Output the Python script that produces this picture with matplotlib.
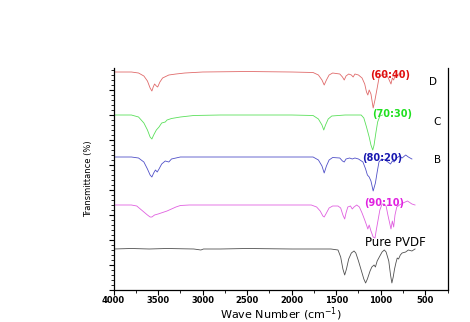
import matplotlib
matplotlib.use("Agg")
import matplotlib.pyplot as plt
from matplotlib.ticker import MultipleLocator, NullFormatter

# --- FTIR spectra (wavenumber cm^-1, transmittance in arbitrary %) ---
wn_d = [4000, 3800, 3720, 3660, 3620, 3590, 3570, 3555, 3540, 3520, 3505, 3480, 3450, 3380,
        3300, 3200, 3000, 2500, 2000, 1760, 1700, 1660, 1635, 1610, 1580, 1540, 1460, 1430,
        1410, 1390, 1360, 1330, 1310, 1290, 1250, 1210, 1180, 1160, 1145, 1130, 1110, 1085,
        1065, 1040, 1020, 990, 950, 920, 900, 885, 870, 855, 840, 800, 760]
t_d = [100, 100, 99, 96, 91, 84, 81, 85, 88, 86, 85, 90, 94, 97,
       98, 99, 100, 100.5, 100, 99.5, 97, 92, 87, 92, 97, 99, 98, 95,
       92, 96, 98, 97, 95, 98, 97, 94, 88, 80, 77, 82, 78, 64,
       72, 84, 94, 97, 98, 95, 91, 88, 94, 92, 96, 98, 98]

wn_c = [4000, 3800, 3720, 3660, 3620, 3590, 3570, 3550, 3520, 3490, 3460, 3420, 3400, 3350,
        3250, 3100, 2800, 2000, 1760, 1700, 1660, 1640, 1620, 1590, 1550, 1400, 1220, 1190,
        1160, 1130, 1110, 1090, 1075, 1055, 1035, 1010, 980]
t_c = [100, 100, 98, 92, 85, 78, 76, 80, 85, 88, 92, 93, 95, 96.5,
       98, 99.5, 100, 100, 99.5, 96, 90, 85, 90, 96, 99, 100, 100, 97,
       88, 78, 70, 65, 70, 82, 93, 99, 100]

wn_b = [4000, 3800, 3720, 3660, 3620, 3590, 3570, 3550, 3530, 3510, 3490, 3460, 3420, 3380,
        3350, 3300, 3250, 2000, 1760, 1700, 1660, 1635, 1610, 1580, 1540, 1460, 1430, 1410,
        1390, 1350, 1320, 1290, 1250, 1200, 1170, 1150, 1130, 1110, 1085, 1060, 1040, 1020,
        990, 950, 920, 890, 870, 850, 820, 790, 760, 720, 690, 650]
t_b = [100, 100, 99, 95, 88, 82, 80, 84, 87, 85, 88, 93, 96, 95,
       98, 99, 100, 100, 100, 97, 91, 84, 91, 97, 99.5, 99, 96, 95,
       98, 99, 98, 99, 98, 95, 88, 82, 80, 76, 66, 74, 85, 95,
       98, 97, 95, 93, 96, 95, 99, 101, 99, 102, 100, 98]

wn_a = [4000, 3800, 3740, 3700, 3660, 3620, 3590, 3570, 3540, 3500, 3450, 3400, 3350, 3300,
        3250, 3150, 2500, 1780, 1720, 1680, 1650, 1635, 1610, 1580, 1540, 1480, 1450, 1425,
        1405, 1390, 1370, 1340, 1320, 1300, 1270, 1240, 1210, 1180, 1160, 1145, 1130, 1110,
        1085, 1065, 1050, 1030, 1010, 985, 960, 940, 920, 900, 885, 870, 855, 840,
        820, 790, 750, 700, 650, 615]
t_a = [100, 100, 99, 96, 93, 90, 88, 88, 90, 91, 92.5, 94, 96, 98,
       99.5, 100, 100, 100, 98, 94, 89, 88, 92, 97, 99, 99, 97, 90,
       86, 92, 98, 99, 96, 98, 100, 98, 92, 85, 80, 76, 80, 74,
       68, 67, 75, 85, 95, 101, 101, 99, 90, 82, 76, 84, 78, 90,
       98, 100, 102, 104, 101, 100]

wn_p = [4000, 3800, 3600, 3400, 3100, 3020, 2990, 2800, 2500, 2000, 1700, 1560, 1480, 1450,
        1425, 1405, 1385, 1360, 1330, 1300, 1280, 1250, 1210, 1190, 1170, 1150, 1120, 1100,
        1075, 1060, 1040, 1010, 985, 960, 940, 910, 890, 875, 860, 845, 830, 815,
        800, 780, 760, 720, 690, 650, 615]
t_p = [100, 100.5, 100, 100.5, 100, 99, 100, 100, 100.5, 100, 100, 100, 99, 92,
       80, 74, 80, 90, 96, 98, 96, 88, 76, 70, 66, 70, 78, 82,
       84, 82, 88, 93, 97, 99, 97, 88, 74, 66, 72, 80, 86, 91,
       90, 94, 96, 97, 99, 98, 100]

offsets = [118, 75, 33, -15, -59]
line_colors = ["#e06a6a", "#5ae05a", "#5050c8", "#e060e0", "#505050"]
label_colors = ["#e01010", "#20e020", "#1818b0", "#e020e0", "black"]
ratio_labels = ["(60:40)", "(70:30)", "(80:20)", "(90:10)", "Pure PVDF"]
letters = ["D", "C", "B"]

fig = plt.figure(figsize=(4.7, 3.22), dpi=100)
ax = fig.add_axes([0.2417, 0.0994, 0.7105, 0.6894])

spectra = [(wn_d, t_d), (wn_c, t_c), (wn_b, t_b), (wn_a, t_a), (wn_p, t_p)]
for (wn, t), off, col in zip(spectra, offsets, line_colors):
    ax.plot(wn, [v + off for v in t], color=col, lw=0.6)

# sample labels
ax.text(894, 215, ratio_labels[0], color=label_colors[0], fontsize=7, fontweight="bold",
        ha="center", va="center")
ax.text(872, 176, ratio_labels[1], color=label_colors[1], fontsize=7, fontweight="bold",
        ha="center", va="center")
ax.text(984, 132, ratio_labels[2], color=label_colors[2], fontsize=7, fontweight="bold",
        ha="center", va="center")
ax.text(962, 87, ratio_labels[3], color=label_colors[3], fontsize=7, fontweight="bold",
        ha="center", va="center")
ax.text(1175, 47, ratio_labels[4], color=label_colors[4], fontsize=8.5,
        ha="left", va="center")
for letter, wx, yy in zip(letters, [411, 367, 367], [208, 168, 130]):
    ax.text(wx, yy, letter, color="black", fontsize=7.5, ha="center", va="center")

ax.set_xlim(4000, 250)
ax.set_ylim(0, 222)
ax.xaxis.set_major_locator(MultipleLocator(500))
ax.xaxis.set_minor_locator(MultipleLocator(250))
ax.yaxis.set_major_locator(MultipleLocator(25))
ax.yaxis.set_minor_locator(MultipleLocator(5))
ax.yaxis.set_major_formatter(NullFormatter())
ax.tick_params(axis="both", which="major", direction="out", length=3.5, width=0.8)
ax.tick_params(axis="both", which="minor", direction="out", length=2, width=0.6)
for lab in ax.get_xticklabels():
    lab.set_fontsize(6)
    lab.set_fontweight("bold")
ax.tick_params(axis="x", pad=1)

ax.spines["top"].set_visible(False)
for s in ["left", "bottom", "right"]:
    ax.spines[s].set_linewidth(0.9)

ax.set_xlabel("Wave Number (cm$^{-1}$)", fontsize=8, labelpad=0)
ax.set_ylabel("Transmittance (%)", fontsize=6,
              family=["Liberation Sans Narrow", "DejaVu Sans"], labelpad=8)

fig.savefig("out.png", dpi=100)
